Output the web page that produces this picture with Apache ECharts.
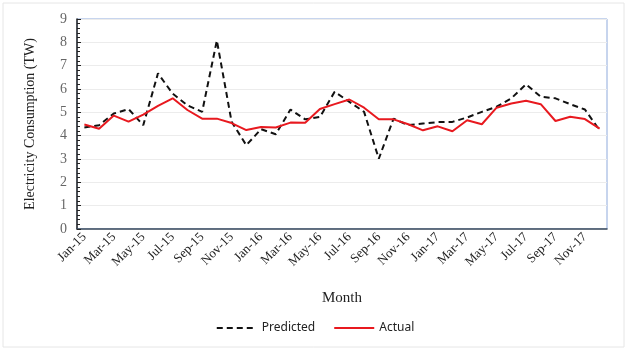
<!DOCTYPE html>
<html>
<head>
<meta charset="utf-8">
<script src="https://cdn.jsdelivr.net/npm/echarts@6/dist/echarts.min.js"></script>
<style>
  html, body { margin: 0; padding: 0; background: #fff; }
  #chart { width: 630px; height: 351px; }
</style>
</head>
<body>
<div id="chart"></div>
<script>
// monthly categories, Jan-15 .. Dec-17
const months = [
  "Jan-15", "Feb-15", "Mar-15", "Apr-15", "May-15", "Jun-15", "Jul-15", "Aug-15", "Sep-15", "Oct-15", "Nov-15", "Dec-15",
  "Jan-16", "Feb-16", "Mar-16", "Apr-16", "May-16", "Jun-16", "Jul-16", "Aug-16", "Sep-16", "Oct-16", "Nov-16", "Dec-16",
  "Jan-17", "Feb-17", "Mar-17", "Apr-17", "May-17", "Jun-17", "Jul-17", "Aug-17", "Sep-17", "Oct-17", "Nov-17", "Dec-17"
];
const predicted = [
  4.35, 4.45, 4.95, 5.14, 4.45, 6.67, 5.8, 5.3, 5.02, 8.08, 4.6, 3.59,
  4.28, 4.06, 5.12, 4.7, 4.8, 5.88, 5.45, 5.02, 3.01, 4.73,
  4.45, 4.52, 4.58, 4.59, 4.78, 5.02, 5.24, 5.6, 6.2, 5.67, 5.6, 5.35, 5.12, 4.23
];
const actual = [
  4.48, 4.3, 4.86, 4.6, 4.9, 5.28, 5.6, 5.1, 4.73, 4.73, 4.54, 4.24,
  4.37, 4.35, 4.56, 4.55, 5.14, 5.35, 5.55, 5.2, 4.7, 4.7,
  4.49, 4.23, 4.4, 4.19, 4.66, 4.49, 5.2, 5.38, 5.5, 5.35, 4.63, 4.81, 4.71, 4.3
];
const yTicks = [0, 1, 2, 3, 4, 5, 6, 7, 8, 9];

const serif = "'Liberation Serif', 'DejaVu Serif', serif";
const chart = echarts.init(document.getElementById("chart"));
chart.setOption({
  animation: false,
  backgroundColor: "#fff",
  graphic: [{
    type: "rect",
    shape: { x: 3, y: 3, width: 621, height: 344 },
    style: { fill: "none", stroke: "#e6e6e6", lineWidth: 1 },
    silent: true
  }],
  grid: {
    left: 77, right: 23, top: 19, bottom: 122,
    show: true,
    borderColor: "#8FAADC",
    borderWidth: 1
  },
  legend: {
    bottom: 12,
    left: "center",
    itemWidth: 40,
    itemGap: 18,
    itemStyle: { opacity: 0 },
    textStyle: { fontFamily: "'Noto Sans', sans-serif", fontSize: 12, color: "#222" },
    data: ["Predicted", "Actual"]
  },
  xAxis: {
    type: "category",
    data: months,
    boundaryGap: true,
    name: "Month",
    nameLocation: "middle",
    nameGap: 62,
    nameTextStyle: { fontFamily: serif, fontSize: 15, color: "#222" },
    axisLine: { lineStyle: { color: "#3a4a5c", width: 1.5 } },
    axisTick: { inside: true, length: 4, interval: 0, lineStyle: { color: "#3a4a5c" } },
    axisLabel: {
      interval: 1,
      rotate: 45,
      margin: 6,
      fontFamily: serif,
      fontSize: 13,
      color: "#222"
    },
    splitLine: { show: false }
  },
  yAxis: {
    type: "value",
    min: yTicks[0],
    max: yTicks[yTicks.length - 1],
    interval: 1,
    name: "Electricity Consumption (TW)",
    nameLocation: "middle",
    nameGap: 40,
    nameTextStyle: { fontFamily: serif, fontSize: 14, color: "#222" },
    axisLine: { show: true, lineStyle: { color: "#222", width: 1.5 } },
    axisTick: { show: true, inside: true, length: 4, lineStyle: { color: "#222" } },
    minorTick: { show: true, splitNumber: 5, length: 3, lineStyle: { color: "#222" } },
    axisLabel: { fontFamily: serif, fontSize: 14, color: "#666", margin: 10 },
    splitLine: { lineStyle: { color: "#ececec" } }
  },
  series: [
    {
      name: "Predicted",
      type: "line",
      data: predicted,
      symbol: "none",
      lineStyle: { color: "#111", width: 2, type: [6, 4] },
      itemStyle: { color: "#111" }
    },
    {
      name: "Actual",
      type: "line",
      data: actual,
      symbol: "none",
      lineStyle: { color: "#e8191f", width: 2 },
      itemStyle: { color: "#e8191f" }
    }
  ]
});
</script>
</body>
</html>
